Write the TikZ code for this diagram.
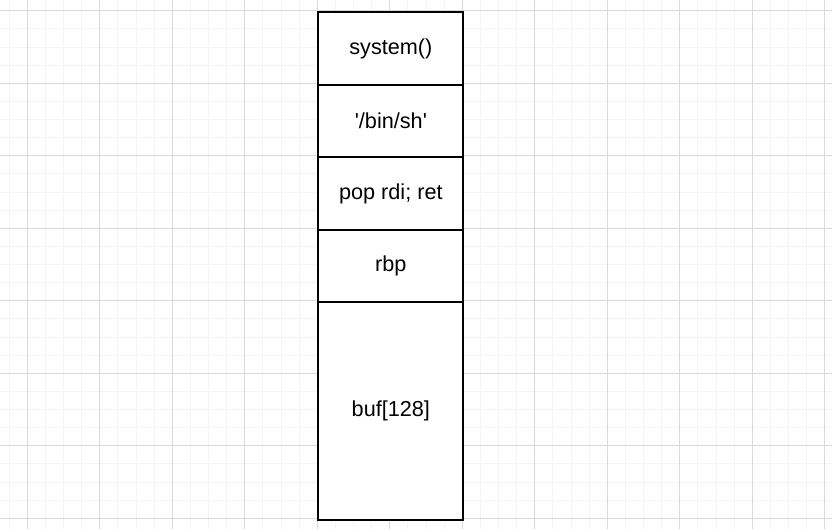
\documentclass[tikz,border=0pt]{standalone}
\usepackage{fontspec}
\setmainfont{Liberation Sans}
\usetikzlibrary{positioning}
\tikzset{
  slot/.style={rectangle,draw=black,line width=0.8pt,fill=white,
    minimum width=2cm,minimum height=1cm,inner sep=0pt,outer sep=0pt,
    font=\fontsize{8.5}{10}\selectfont},
  bigslot/.style={slot,minimum height=3cm},
  % background grid, as in the editor
  minorgrid/.style={draw=gray!9,line width=0.4pt},
  majorgrid/.style={draw=gray!30,line width=0.4pt}
}

\begin{document}
\begin{tikzpicture}
  \useasboundingbox (0,0) rectangle (11.476,7.283);
  \clip (0,0) rectangle (11.476,7.283);
  \begin{scope}[shift={(0.377,0.134)}]
    \draw[minorgrid,step=0.25] (-1,-1) grid (12,8);
    \draw[majorgrid,step=1] (-1,-1) grid (12,8);
    \node[slot] (sys) at (5.014,6.48) {system()};
    \node[slot,below=0pt of sys] (binsh) {\textquotesingle/bin/sh\textquotesingle};
    \node[slot,below=0pt of binsh] (poprdi) {pop rdi; ret};
    \node[slot,below=0pt of poprdi] (rbp) {rbp};
    \node[bigslot,below=0pt of rbp] (buf) {buf[128]};
  \end{scope}
\end{tikzpicture}
\end{document}
